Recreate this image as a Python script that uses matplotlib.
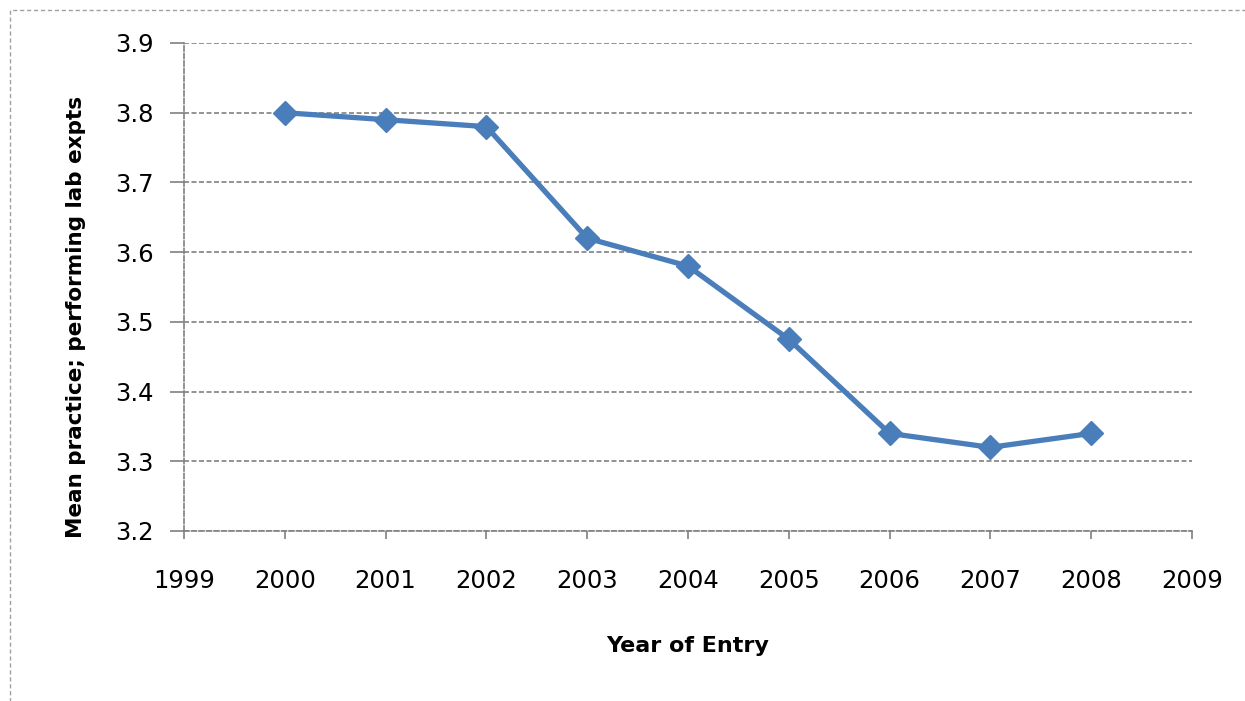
import matplotlib.pyplot as plt
from matplotlib.patches import Rectangle

# Data
years = [2000, 2001, 2002, 2003, 2004, 2005, 2006, 2007, 2008]
mean_practice = [3.80, 3.79, 3.78, 3.62, 3.58, 3.475, 3.34, 3.32, 3.34]
x_ticks = list(range(1999, 2010))
y_ticks = [3.2, 3.3, 3.4, 3.5, 3.6, 3.7, 3.8, 3.9]

line_color = '#4A7EBB'
grid_color = '#808080'

fig = plt.figure(figsize=(12.45, 7.01), dpi=100)
ax = fig.add_axes([184 / 1245, 1 - 531 / 701, (1192 - 184) / 1245, (531 - 43) / 701])

# Outer chart-area border (dashed, like the Excel export)
fig.patches.append(Rectangle((10 / 1245, -0.05), 1.2, 1 - 10 / 701 + 0.05,
                             transform=fig.transFigure, fill=False,
                             edgecolor='#a0a0a0', linestyle=(0, (3, 2)), linewidth=1))

ax.plot(years, mean_practice, color=line_color, linewidth=3.8,
        marker='D', markersize=12, markerfacecolor=line_color,
        markeredgecolor=line_color)

ax.set_xlim(1999, 2009)
ax.set_ylim(3.2, 3.9)
ax.set_xticks(x_ticks)
ax.set_yticks(y_ticks)
ax.set_yticklabels([f"{v:.1f}" for v in y_ticks])

# Dashed horizontal gridlines
ax.yaxis.grid(True, color=grid_color, linestyle=(0, (3, 1.5)), linewidth=1.2)
ax.set_axisbelow(True)

for side in ['top', 'right']:
    ax.spines[side].set_visible(False)
for side in ['left', 'bottom']:
    ax.spines[side].set_color(grid_color)
    ax.spines[side].set_linestyle((0, (3, 1.5)))
    ax.spines[side].set_linewidth(1.2)

ax.tick_params(axis='y', length=10, width=1.2, color=grid_color, labelsize=17.5, pad=12)
ax.tick_params(axis='x', length=6, width=1.2, color=grid_color, labelsize=17.5, pad=21)

ax.set_xlabel("Year of Entry", fontsize=16, fontweight='bold', labelpad=31)
ax.set_ylabel("Mean practice; performing lab expts", fontsize=15.5, fontweight='bold')
ax.yaxis.set_label_coords(-0.097, 0.4385)

fig.savefig("out.png", dpi=100)
plt.close(fig)
